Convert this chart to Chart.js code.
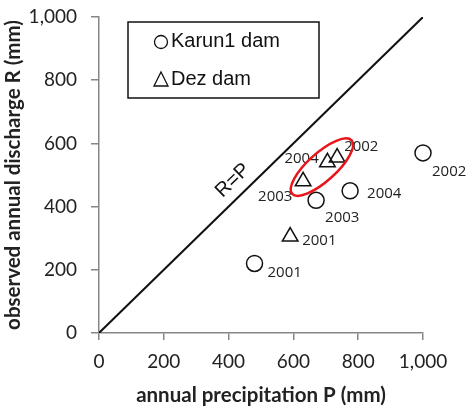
<!DOCTYPE html>
<html>
<head>
<meta charset="utf-8">
<script src="https://cdn.jsdelivr.net/npm/chart.js@4"></script>
<style>
  html, body { margin: 0; padding: 0; background: #fff; }
  #wrap { width: 466px; height: 409px; }
</style>
</head>
<body>
<div id="wrap"><canvas id="grafica" width="466" height="409"></canvas></div>
<script>
// datos
const seriesNames = ['Karun1 dam', 'Dez dam'];
const years = [2001, 2002, 2003, 2004];
const karunP = [480, 1000, 670, 775];
const karunR = [220, 570, 420, 450];
const dezP = [590, 735, 630, 705];
const dezR = [305, 555, 480, 540];
const lineP = [0, 1000];
const lineR = [0, 1000];
const tickValues = [0, 200, 400, 600, 800, 1000];
const groupCenter = { x: 688, y: 525 };

// desplazamiento de las etiquetas de año (px)
const karunOffsets = [[13, 9], [9, 19], [9, 17], [17, 3]];
const dezOffsets = [[12, 4], [7, -11], [-45, 15], [-43, -4]];

const axisColor = '#868686';
const tickFont = { family: 'Lato', size: 19 };
const titleFont = { family: 'Lato', size: 20.5, weight: 'bold' };

const toPoints = (xs, ys) => xs.map((x, i) => ({ x: x, y: ys[i] }));

const overlay = {
  id: 'overlay',
  afterDatasetsDraw(chart) {
    const ctx = chart.ctx;
    const xs = chart.scales.x, ys = chart.scales.y;
    ctx.save();

    // etiquetas de año
    ctx.fillStyle = '#222';
    ctx.font = '15px "Open Sans"';
    ctx.textAlign = 'left';
    ctx.textBaseline = 'middle';
    karunP.forEach((p, i) => {
      ctx.fillText(years[i], xs.getPixelForValue(p) + karunOffsets[i][0], ys.getPixelForValue(karunR[i]) + karunOffsets[i][1]);
    });
    dezP.forEach((p, i) => {
      ctx.fillText(years[i], xs.getPixelForValue(p) + dezOffsets[i][0], ys.getPixelForValue(dezR[i]) + dezOffsets[i][1]);
    });

    // elipse roja
    ctx.beginPath();
    ctx.ellipse(xs.getPixelForValue(groupCenter.x), ys.getPixelForValue(groupCenter.y), 40, 14, -42 * Math.PI / 180, 0, 2 * Math.PI);
    ctx.strokeStyle = '#e8161b';
    ctx.lineWidth = 2.5;
    ctx.stroke();

    // R=P
    ctx.save();
    ctx.translate(xs.getPixelForValue(425), ys.getPixelForValue(470));
    ctx.rotate(-44 * Math.PI / 180);
    ctx.fillStyle = '#111';
    ctx.font = '20px "Liberation Sans"';
    ctx.textAlign = 'center';
    ctx.textBaseline = 'alphabetic';
    ctx.fillText('R=P', 0, 0);
    ctx.restore();

    // leyenda
    ctx.fillStyle = '#fff';
    ctx.fillRect(128, 22, 191, 76);
    ctx.strokeStyle = '#111';
    ctx.lineWidth = 1.5;
    ctx.strokeRect(128, 22, 191, 76);
    ctx.lineWidth = 1.3;
    ctx.beginPath();
    ctx.arc(161, 42, 6.5, 0, 2 * Math.PI);
    ctx.stroke();
    ctx.beginPath();
    ctx.moveTo(161, 72);
    ctx.lineTo(168, 86);
    ctx.lineTo(154, 86);
    ctx.closePath();
    ctx.stroke();
    ctx.fillStyle = '#111';
    ctx.font = '20px "Liberation Sans"';
    ctx.textBaseline = 'middle';
    ctx.textAlign = 'left';
    ctx.fillText(seriesNames[0], 171, 41);
    ctx.fillText(seriesNames[1], 171, 79);
    ctx.restore();
  }
};

const data = {
  datasets: [{
    label: 'R=P',
    type: 'line',
    data: toPoints(lineP, lineR),
    borderColor: '#111',
    borderWidth: 2,
    pointRadius: 0
  }, {
    label: seriesNames[0],
    data: toPoints(karunP, karunR),
    clip: false,
    pointStyle: 'circle',
    pointRadius: 8,
    borderColor: '#111',
    borderWidth: 1.5,
    backgroundColor: 'rgba(255,255,255,0)'
  }, {
    label: seriesNames[1],
    data: toPoints(dezP, dezR),
    clip: false,
    pointStyle: 'triangle',
    pointRadius: 9,
    borderColor: '#111',
    borderWidth: 1.5,
    backgroundColor: 'rgba(255,255,255,0)'
  }]
};

const config = {
  type: 'scatter',
  data: data,
  options: {
    responsive: false,
    animation: false,
    layout: { padding: { top: 17, right: 43, left: 0, bottom: 0 } },
    plugins: { legend: { display: false }, tooltip: { enabled: false } },
    scales: {
      x: {
        type: 'linear', min: 0, max: 1000,
        afterBuildTicks: s => { s.ticks = tickValues.map(v => ({ value: v })); },
        afterFit: s => { s.height = 76; s.paddingLeft = 0; s.paddingRight = 0; },
        border: { color: axisColor, width: 1.5 },
        grid: { drawOnChartArea: false, color: axisColor, tickLength: 7, lineWidth: 1.5 },
        ticks: { color: '#222', font: tickFont, padding: 10, maxRotation: 0,
          callback: v => v.toLocaleString('en-US') },
        title: { display: true, text: 'annual precipitation P (mm)', color: '#222',
          font: titleFont, padding: { top: 0, bottom: 1 } }
      },
      y: {
        type: 'linear', min: 0, max: 1000,
        afterBuildTicks: s => { s.ticks = tickValues.map(v => ({ value: v })); },
        afterFit: s => { s.width = 99; s.paddingTop = 0; s.paddingBottom = 0; },
        border: { color: axisColor, width: 1.5 },
        grid: { drawOnChartArea: false, color: axisColor, tickLength: 8, lineWidth: 1.5 },
        ticks: { color: '#222', font: tickFont, padding: 14,
          callback: v => v.toLocaleString('en-US') },
        title: { display: true, text: 'observed annual discharge R (mm)', color: '#222',
          font: titleFont, padding: { top: 1, bottom: 0 } }
      }
    }
  },
  plugins: [overlay]
};

new Chart(document.querySelector('#grafica'), config);
</script>
</body>
</html>
